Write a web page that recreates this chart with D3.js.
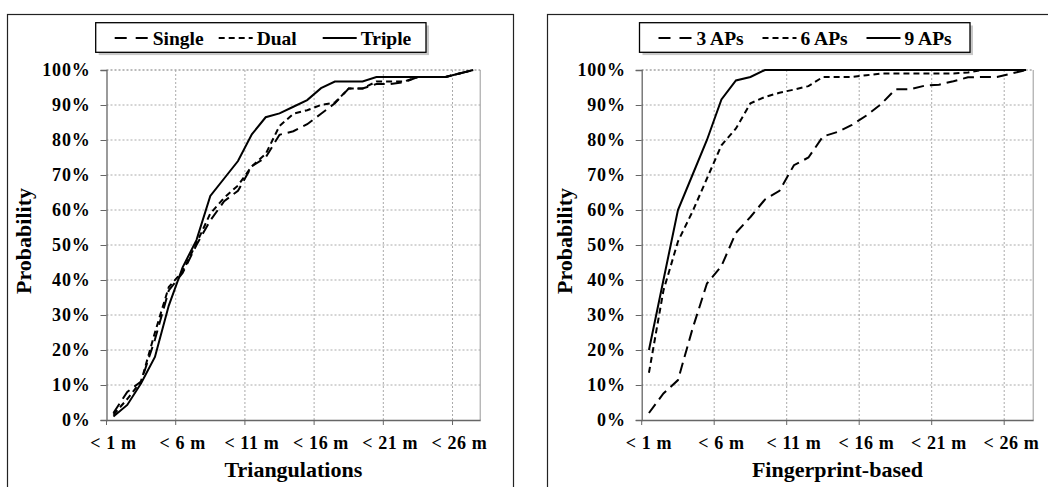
<!DOCTYPE html>
<html>
<head>
<meta charset="utf-8">
<script src="https://cdn.jsdelivr.net/npm/d3@7"></script>
<style>
  body { margin: 0; background: #fff; }
  svg text { font-family: "Liberation Serif", "Times New Roman", serif; font-weight: bold; fill: #000; }
</style>
</head>
<body>
<div id="chart"></div>
<script>
// distance buckets on the x axis
var categories = ["< 1 m", "< 2 m", "< 3 m", "< 4 m", "< 5 m", "< 6 m", "< 7 m", "< 8 m", "< 9 m",
  "< 10 m", "< 11 m", "< 12 m", "< 13 m", "< 14 m", "< 15 m", "< 16 m", "< 17 m", "< 18 m",
  "< 19 m", "< 20 m", "< 21 m", "< 22 m", "< 23 m", "< 24 m", "< 25 m", "< 26 m", "< 27 m"];
var xTickLabels = ["< 1 m", "< 6 m", "< 11 m", "< 16 m", "< 21 m", "< 26 m"];
var yTicks = [0, 10, 20, 30, 40, 50, 60, 70, 80, 90, 100];

// left chart: triangulations (cumulative %)
var single = [2, 8, 11, 23, 37, 42, 50, 57, 62.5, 65.5, 72.5, 75, 81.5, 82.5, 84.5, 87.5, 90.5,
  94.7, 94.7, 96, 96, 96.5, 98, 98, 98, 99, 100];
var dual = [1.5, 6, 11, 25, 38, 42.5, 50.5, 59, 63.5, 67, 72.5, 76, 84, 87.5, 88.5, 90, 90.7,
  94.7, 94.7, 96.7, 96.7, 96.7, 98, 98, 98, 99, 100];
var triple = [1, 4.3, 10.5, 18, 32.7, 43.6, 51.4, 64, 69, 74, 81.6, 86.5, 87.6, 89.5, 91.4, 94.8,
  96.7, 96.7, 96.7, 98, 98, 98, 98, 98, 98, 99, 100];

// right chart: fingerprint-based (cumulative %)
var ap3 = [2, 7.6, 11.4, 26, 39, 44, 53.5, 58, 63, 65.5, 72.8, 75, 81, 82.3, 84.3, 87, 90.2,
  94.5, 94.5, 95.5, 95.8, 96.8, 97.9, 98, 98, 99, 100];
var ap6 = [13.5, 37, 51, 59.5, 69, 78.5, 83.3, 90.5, 92.3, 93.5, 94.4, 95.4, 98, 98, 98, 98.5, 99,
  99, 99, 99, 99, 99, 99.3, 100, 100, 100, 100];
var ap9 = [20, 40, 60, 70, 80, 91.6, 97, 98, 100, 100, 100, 100, 100, 100, 100, 100, 100, 100,
  100, 100, 100, 100, 100, 100, 100, 100, 100];

var seriesNamesLeft = ["Single", "Dual", "Triple"];
var seriesNamesRight = ["3 APs", "6 APs", "9 APs"];

var dashes = ["11,6", "6,4", null];

var width = 1048, height = 487;
var plotTop = 70, plotBottom = 420;

var panels = [
  { left: 106.5, right: 480.2, frameX: 7, legendX: 95.7, legendW: 330.3, yTitleX: 31,
    title: "Triangulations", names: seriesNamesLeft, data: [single, dual, triple] },
  { left: 641.7, right: 1033.2, frameX: 547, legendX: 639.5, legendW: 330.5, yTitleX: 572,
    title: "Fingerprint-based", names: seriesNamesRight, data: [ap3, ap6, ap9] }
];

var svg = d3.select("#chart").append("svg")
    .attr("width", width)
    .attr("height", height);

panels.forEach(function(p) {
  var g = svg.append("g");

  // outer frame of each figure
  g.append("rect")
      .attr("x", p.frameX + 0.5).attr("y", 14.5)
      .attr("width", 506).attr("height", 500)
      .attr("fill", "none").attr("stroke", "#222").attr("stroke-width", 1.2);

  var x = d3.scaleBand().domain(categories).range([p.left, p.right]).padding(0);
  var y = d3.scaleLinear().domain([0, 100]).range([plotBottom, plotTop]);
  var bw = x.bandwidth();

  // horizontal grid
  g.selectAll(".hgrid").data(yTicks.filter(function(d) { return d > 0; }))
    .enter().append("line")
      .attr("x1", p.left).attr("x2", p.right)
      .attr("y1", function(d) { return y(d); }).attr("y2", function(d) { return y(d); })
      .attr("stroke", function(d) { return d === 100 ? "#777" : "#aaa"; })
      .attr("stroke-dasharray", "2,2");

  // vertical grid at every 5th bucket boundary
  var bounds = categories.filter(function(d, i) { return i > 0 && i % 5 === 0; });
  g.selectAll(".vgrid").data(bounds)
    .enter().append("line")
      .attr("x1", function(d) { return x(d); }).attr("x2", function(d) { return x(d); })
      .attr("y1", plotTop).attr("y2", plotBottom)
      .attr("stroke", "#aaa")
      .attr("stroke-dasharray", "2,2");

  // right edge of plot area
  g.append("line")
      .attr("x1", p.right).attr("x2", p.right).attr("y1", plotTop).attr("y2", plotBottom)
      .attr("stroke", "#999");

  // y axis
  var yAxis = d3.axisLeft(y).tickValues(yTicks).tickSize(6).tickPadding(10)
      .tickFormat(function(d) { return d + "%"; });
  var ya = g.append("g").attr("transform", "translate(" + p.left + ",0)").call(yAxis);
  ya.select(".domain").attr("stroke", "#666").attr("stroke-width", 1.3);
  ya.selectAll(".tick line").attr("stroke", "#666");
  ya.selectAll(".tick text").style("font-size", "18px").style("letter-spacing", "0.8px")
      .style("font-family", "Liberation Serif").style("font-weight", "bold").attr("fill", "#000");

  // x axis: labels on bucket centres, ticks on boundaries
  var xAxis = d3.axisBottom(x).tickValues(xTickLabels).tickSize(0).tickPadding(16);
  var xa = g.append("g").attr("transform", "translate(0," + plotBottom + ")").call(xAxis);
  xa.select(".domain").attr("stroke", "#666").attr("stroke-width", 1.3);
  xa.selectAll(".tick text").style("font-size", "18px").style("letter-spacing", "0.6px")
      .style("font-family", "Liberation Serif").style("font-weight", "bold").attr("fill", "#000");
  g.selectAll(".xtick").data(categories.filter(function(d, i) { return i % 5 === 0; }))
    .enter().append("line")
      .attr("x1", function(d) { return x(d); }).attr("x2", function(d) { return x(d); })
      .attr("y1", plotBottom).attr("y2", plotBottom + 5)
      .attr("stroke", "#666");

  // the lines
  var line = d3.line()
      .x(function(d, i) { return x(categories[i]) + bw / 2; })
      .y(function(d) { return y(d); });

  p.data.forEach(function(s, k) {
    g.append("path")
        .datum(s)
        .attr("d", line)
        .attr("fill", "none")
        .attr("stroke", "#000")
        .attr("stroke-width", 2)
        .attr("stroke-dasharray", dashes[k]);
  });

  // axis titles
  g.append("text")
      .attr("x", (p.left + p.right) / 2).attr("y", 477)
      .attr("text-anchor", "middle")
      .style("font-size", "22px")
      .text(p.title);

  g.append("text")
      .attr("transform", "translate(" + p.yTitleX + ",241) rotate(-90)")
      .attr("text-anchor", "middle")
      .style("font-size", "22px")
      .text("Probability");

  // legend box with a soft shadow
  g.append("rect")
      .attr("x", p.legendX + 3).attr("y", 25.5)
      .attr("width", p.legendW).attr("height", 29.6)
      .attr("fill", "#c8c8c8");
  g.append("rect")
      .attr("x", p.legendX).attr("y", 22.7)
      .attr("width", p.legendW).attr("height", 29.6)
      .attr("fill", "#fff").attr("stroke", "#000").attr("stroke-width", 1.3);

  p.names.forEach(function(name, k) {
    var lx = p.legendX + 19 + k * 104;
    g.append("line")
        .attr("x1", lx).attr("x2", lx + 34).attr("y1", 38).attr("y2", 38)
        .attr("stroke", "#000").attr("stroke-width", 2)
        .attr("stroke-dasharray", k === 0 ? "12,9" : dashes[k]);
    g.append("text")
        .attr("x", lx + 38).attr("y", 44.5)
        .style("font-size", "19.5px")
        .text(name);
  });
});
</script>
</body>
</html>
